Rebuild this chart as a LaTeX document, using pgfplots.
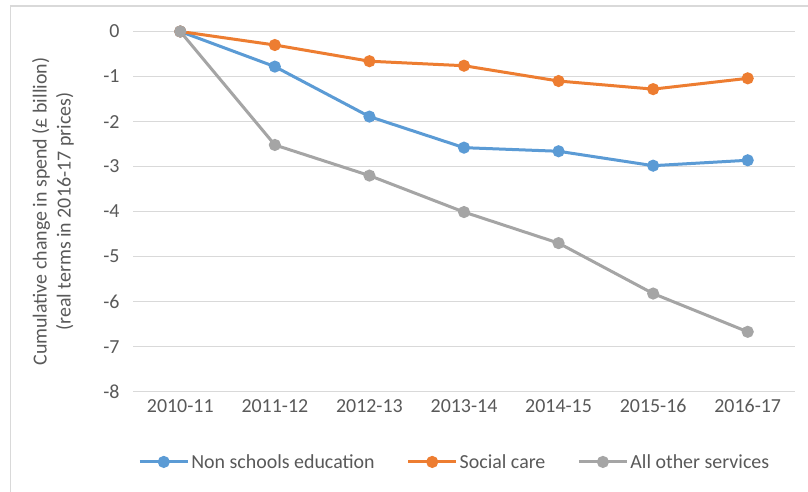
\documentclass[border=0pt]{standalone}
\usepackage{pgfplots}
\pgfplotsset{compat=1.18}
\usepackage{fontspec}
\setmainfont{Carlito}
\definecolor{cblue}{HTML}{5B9BD5}
\definecolor{corange}{HTML}{ED7D31}
\definecolor{cgray}{HTML}{A5A5A5}
\definecolor{ctext}{HTML}{595959}
\definecolor{cgrid}{HTML}{D9D9D9}
\begin{document}
\begin{tikzpicture}
\useasboundingbox (0bp,0bp) rectangle (808bp,492bp);
\fill[white] (0bp,0bp) rectangle (808bp,492bp);
\draw[cgrid, line width=1.2bp] (10.5bp,-2bp) -- (10.5bp,486bp) -- (810bp,486bp);
\begin{axis}[
  at={(133bp,100.3bp)}, anchor=south west,
  scale only axis, width=662bp, height=360.2bp,
  xmin=-0.5, xmax=6.5, ymin=-8, ymax=0,
  xtick={0,...,6},
  xticklabels={2010-11,2011-12,2012-13,2013-14,2014-15,2015-16,2016-17},
  ytick={-8,-7,...,0},
  /pgf/number format/assume math mode=true,
  axis line style={draw=none},
  tick style={draw=none},
  ymajorgrids, grid style={cgrid, line width=1.2bp},
  font=\fontsize{20}{24}\selectfont,
  tick label style={text=ctext},
  yticklabel style={xshift=-10bp},
  xticklabel style={yshift=-4bp},
  ylabel={Cumulative change in spend (£ billion)\\(real terms in 2016-17 prices)},
  ylabel style={at={(axis description cs:-0.121,0.5)}, anchor=center, align=center, text=ctext},
  legend style={at={(axis description cs:0.486,-0.195)}, anchor=center, draw=none, fill=none,
    legend columns=3, text=ctext, font=\fontsize{20}{24}\selectfont,
    /tikz/every even column/.append style={column sep=30bp},
    inner sep=0pt, nodes={inner sep=2bp}},
  legend image code/.code={\draw[#1, mark repeat=2, mark phase=2] plot coordinates {(0bp,0bp) (24bp,0bp) (48bp,0bp)};},
  every axis plot/.append style={line width=3bp, mark=*, mark size=4.5bp},
]
\addplot[cblue, mark options={fill=cblue, draw=cblue}] coordinates {(0,0) (1,-0.78) (2,-1.89) (3,-2.58) (4,-2.66) (5,-2.98) (6,-2.86)};
\addlegendentry{Non schools education}
\addplot[corange, mark options={fill=corange, draw=corange}] coordinates {(0,0) (1,-0.30) (2,-0.66) (3,-0.76) (4,-1.10) (5,-1.28) (6,-1.04)};
\addlegendentry{Social care}
\addplot[cgray, mark options={fill=cgray, draw=cgray}] coordinates {(0,0) (1,-2.52) (2,-3.20) (3,-4.01) (4,-4.70) (5,-5.82) (6,-6.67)};
\addlegendentry{All other services}
\end{axis}
\end{tikzpicture}
\end{document}
